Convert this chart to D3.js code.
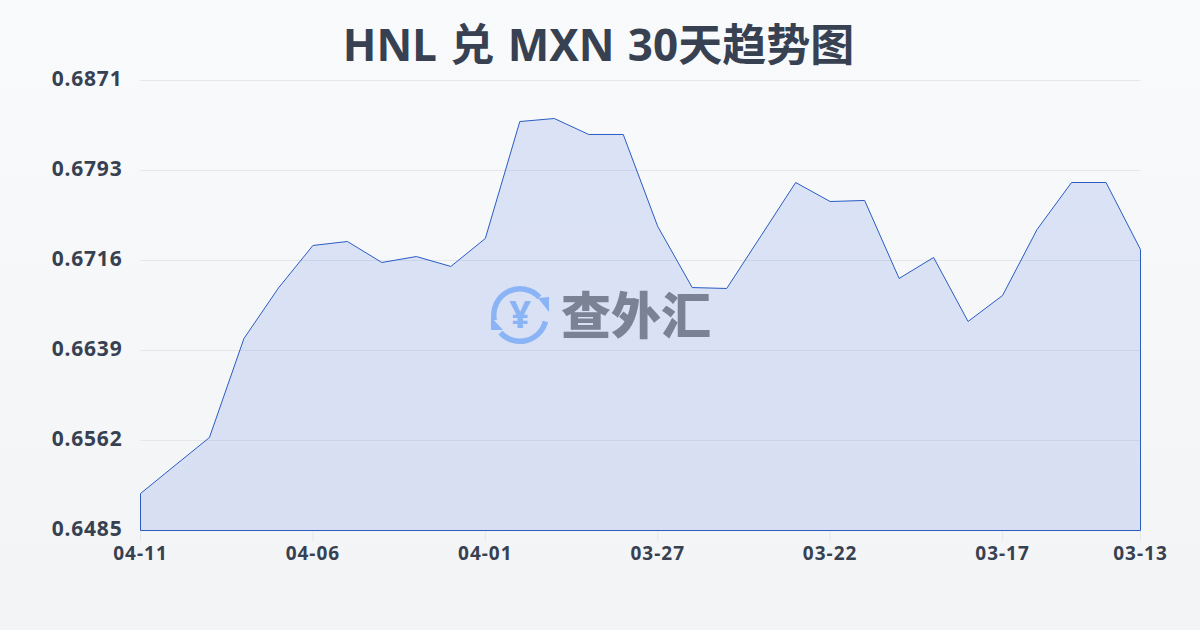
<!DOCTYPE html>
<html><head><meta charset="utf-8">
<script src="https://cdn.jsdelivr.net/npm/d3@7"></script>
<style>html,body{margin:0;padding:0;width:1200px;height:630px;overflow:hidden}svg{display:block}
text{font-family:"Noto Sans","Noto Sans CJK SC",sans-serif}</style></head><body>
<svg id="c" width="1200" height="630"></svg>
<script>
const titleText="HNL 兑 MXN 30天趋势图";
const dates=["04-11","04-10","04-09","04-08","04-07","04-06","04-05","04-04","04-03","04-02","04-01","03-31","03-30","03-29","03-28","03-27","03-26","03-25","03-24","03-23","03-22","03-21","03-20","03-19","03-18","03-17","03-16","03-15","03-14","03-13"];
const rates=[0.65167,0.65408,0.65648,0.66497,0.66930,0.67295,0.67329,0.67149,0.67200,0.67115,0.67355,0.68358,0.68384,0.68247,0.68247,0.67458,0.66934,0.66926,0.67380,0.67835,0.67672,0.67681,0.67012,0.67192,0.66643,0.66866,0.67432,0.67835,0.67835,0.67260];
const xTickLabels=["04-11","04-06","04-01","03-27","03-22","03-17","03-13"];
const yTicks=[0.6485,0.6562,0.6639,0.6716,0.6793,0.6871];
const watermarkText="查外汇";

const svg=d3.select("#c");
const defs=svg.append("defs");
const bg=defs.append("linearGradient").attr("id","bg").attr("x1",0).attr("y1",0).attr("x2",0).attr("y2",1);
bg.append("stop").attr("offset",0).attr("stop-color","#f8fafc");
bg.append("stop").attr("offset",1).attr("stop-color","#f3f4f6");
svg.append("rect").attr("width",1200).attr("height",630).attr("fill","url(#bg)");

const x=d3.scalePoint().domain(dates).range([140.5,1140.5]);
const y=d3.scaleLinear().domain([0.6485,0.6871]).range([530.5,80.5]);
const ink="#374151", blue="#1d4ed8", lineBlue="#2a5cc4";

const gridScale=d3.scaleLinear().domain([0,yTicks.length-1]).range([530.5,80.5]);
svg.append("g").selectAll("line").data(yTicks).join("line")
 .attr("x1",140.5).attr("x2",1140.5)
 .attr("y1",(d,i)=>gridScale(i)).attr("y2",(d,i)=>gridScale(i))
 .attr("stroke","#e5e7eb").attr("stroke-width",1);

const area=d3.area().x((d,i)=>x(dates[i])).y0(y(0.6485)).y1(d=>y(d));
svg.append("path").datum(rates).attr("d",area).attr("fill",blue).attr("fill-opacity",0.13);

const xg=svg.append("g");
xg.selectAll("line").data(xTickLabels).join("line")
 .attr("x1",d=>x(d)).attr("x2",d=>x(d)).attr("y1",531).attr("y2",541)
 .attr("stroke","#e5e7eb");
xg.selectAll("text").data(xTickLabels).join("text")
 .attr("x",d=>x(d)).attr("y",559.5).attr("text-anchor","middle")
 .attr("font-size",19).attr("letter-spacing",1).attr("font-weight",700).attr("fill",ink).text(d=>d);

svg.append("g").selectAll("text").data(yTicks).join("text")
 .attr("x",122.5).attr("y",(d,i)=>gridScale(i)+5.5).attr("text-anchor","end")
 .attr("font-size",21).attr("letter-spacing",0.8).attr("font-weight",700).attr("fill",ink).text(d=>d.toFixed(4));

svg.append("text").attr("x",598.5).attr("y",60.5).attr("text-anchor","middle")
 .attr("font-size",44).attr("word-spacing",2).attr("font-weight",700).attr("fill",ink).text(titleText);

const wm=svg.append("g");
const logoBlue="#8ab4f5";
const arc=d3.arc().innerRadius(23.5).outerRadius(29);
const cx=520,cy=315;
const logo=wm.append("g").attr("transform",`translate(${cx},${cy})`);
logo.append("path").attr("fill",logoBlue).attr("d",arc({startAngle:-1.77,endAngle:0.83}));
logo.append("path").attr("fill",logoBlue).attr("d",arc({startAngle:1.82,endAngle:3.98}));
logo.append("path").attr("fill",logoBlue).attr("d","M18,-17L29,-18L29,-3Z");
logo.append("path").attr("fill",logoBlue).attr("d","M-29,2L-29,15L-17,15Z");
logo.append("text").attr("y",13).attr("text-anchor","middle").attr("font-size",38).attr("font-weight",700).attr("fill",logoBlue).text("¥");
wm.append("text").attr("x",636).attr("y",333.5).attr("text-anchor","middle")
 .attr("font-family","'Noto Sans CJK SC'").attr("font-size",50).attr("font-weight",900).attr("fill","#7a8294").text(watermarkText);

svg.append("path").attr("d",d3.line().x((d,i)=>x(dates[i])).y(d=>y(d))(rates)+`L${x(dates[29])},${y(0.6485)}L${x(dates[0])},${y(0.6485)}Z`)
 .attr("fill","none").attr("stroke",lineBlue).attr("stroke-width",1);
</script></body></html>
